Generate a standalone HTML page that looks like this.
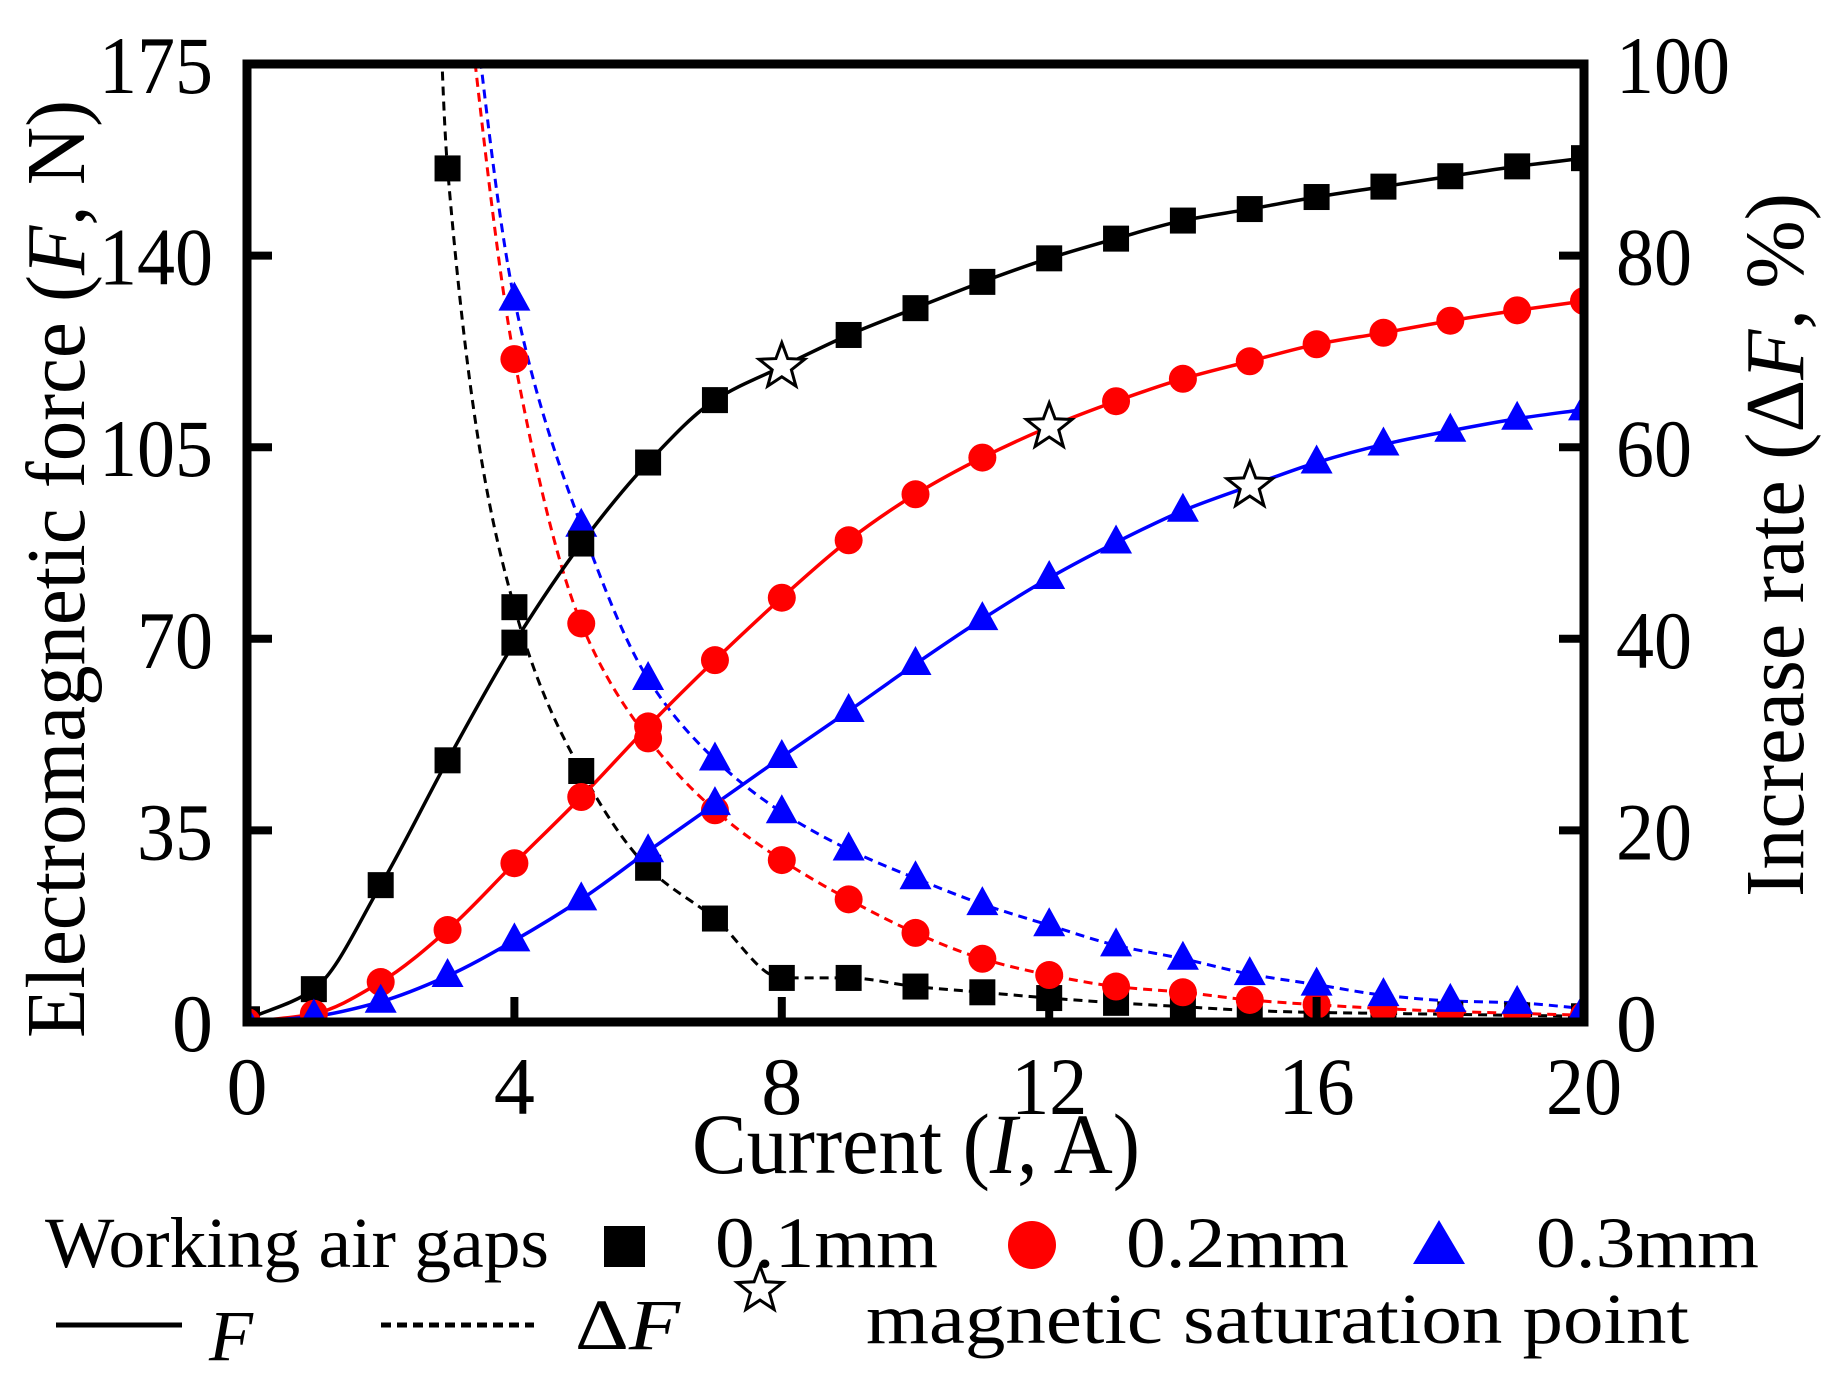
<!DOCTYPE html>
<html><head><meta charset="utf-8"><style>
html,body{margin:0;padding:0;background:#fff;}
svg{display:block;}
text{font-family:"Liberation Serif",serif;fill:#000;}
</style></head><body>
<svg id="chart" width="1839" height="1388" viewBox="0 0 1839 1388" xmlns="http://www.w3.org/2000/svg">
<defs><clipPath id="plotclip"><rect x="247" y="64" width="1337" height="958"/></clipPath></defs>
<g id="dataLayer" clip-path="url(#plotclip)"></g>
<rect x="247" y="64" width="1337" height="958" fill="none" stroke="#000" stroke-width="9"/>
<g id="axes"></g>
<text x="692" y="1173" font-size="86" textLength="448" lengthAdjust="spacingAndGlyphs">Current (<tspan font-style="italic">I</tspan>, A)</text>
<text transform="translate(84,1038) rotate(-90)" font-size="84" textLength="938" lengthAdjust="spacingAndGlyphs">Electromagnetic force (<tspan font-style="italic">F</tspan>, N)</text>
<text transform="translate(1803,897) rotate(-90)" font-size="84" textLength="704" lengthAdjust="spacingAndGlyphs">Increase rate (Δ<tspan font-style="italic">F</tspan>, %)</text>
<g>
<text x="45" y="1267" font-size="72" textLength="504" lengthAdjust="spacingAndGlyphs">Working air gaps</text>
<rect x="604" y="1226" width="41" height="41" fill="#000"/>
<text x="715" y="1267" font-size="72" textLength="223" lengthAdjust="spacingAndGlyphs">0.1mm</text>
<circle cx="1032" cy="1245" r="24" fill="#f00"/>
<text x="1126" y="1267" font-size="72" textLength="223" lengthAdjust="spacingAndGlyphs">0.2mm</text>
<polygon points="1439,1220 1465,1264 1413,1264" fill="#00f"/>
<text x="1536" y="1267" font-size="72" textLength="223" lengthAdjust="spacingAndGlyphs">0.3mm</text>
<line x1="56" y1="1325" x2="182" y2="1325" stroke="#000" stroke-width="5"/>
<text x="209" y="1360" font-size="72" font-style="italic">F</text>
<line x1="381" y1="1325" x2="534" y2="1325" stroke="#000" stroke-width="5" stroke-dasharray="10,6"/>
<text x="575" y="1349" font-size="72" textLength="105" lengthAdjust="spacingAndGlyphs">Δ<tspan font-style="italic">F</tspan></text>
<polygon id="legendStar" fill="#fff" stroke="#000" stroke-width="3"/>
<text x="866" y="1343" font-size="72" textLength="823" lengthAdjust="spacingAndGlyphs">magnetic saturation point</text>
</g>
</svg>
<script>
const currents = [0,1,2,3,4,5,6,7,8,9,10,11,12,13,14,15,16,17,18,19,20];
const force01 = [0.5,6,25,47.8,69.3,87.4,102.2,113.6,119.7,125.5,130.4,135.2,139.5,143.1,146.4,148.5,150.7,152.6,154.5,156.3,157.8];
const force02 = [0,1.5,7.3,16.8,29,41.1,54,66.1,77.5,88,96.4,103.1,108.7,113.4,117.5,120.7,123.8,125.9,128.1,130,131.7];
const force03 = [0,1,3.7,8.4,14.9,22.4,31.2,39.8,48.4,56.8,65.4,73.6,81.1,87.6,93.4,97.9,102.2,105.5,108,110.2,111.9];
const rateCurrents01 = [2,3,4,5,6,7,8,9,10,11,12,13,14,15,16,17,18,19,20];
const rate01 = [500,89.1,43.3,26.2,16.1,10.8,4.6,4.6,3.7,3.1,2.5,2.0,1.6,1.2,1.0,0.9,0.8,0.7,0.6];
const rateCurrents = [3,4,5,6,7,8,9,10,11,12,13,14,15,16,17,18,19,20];
const rate02 = [125,69.2,41.6,29.6,22.1,16.9,12.8,9.3,6.6,4.9,3.7,3.1,2.3,1.8,1.4,1.1,0.9,0.7];
const rate03 = [130,75.4,51.8,35.8,27.4,21.9,18.0,15.0,12.3,10.1,8.0,6.6,5.0,3.9,2.8,2.2,2.0,1.4];
const saturationCurrents = [8,12,15];
const saturationSeries = [0,1,2];
const xTicks = [0,4,8,12,16,20];
const leftTicks = [0,35,70,105,140,175];
const rightTicks = [0,20,40,60,80,100];

const NS='http://www.w3.org/2000/svg';
const L=247,R=1584,T=64,B=1022;
const X=v=>L+v*(R-L)/20;
const YL=v=>B-v*(B-T)/175;
const YR=v=>B-v*(B-T)/100;
const layer=document.getElementById('dataLayer');
const axes=document.getElementById('axes');
function mk(tag,attrs,parent){const e=document.createElementNS(NS,tag);for(const k in attrs)e.setAttribute(k,attrs[k]);parent.appendChild(e);return e;}
function smooth(pts){const n=pts.length;const dx=[],s=[];for(let i=0;i<n-1;i++){dx.push(pts[i+1][0]-pts[i][0]);s.push((pts[i+1][1]-pts[i][1])/dx[i]);}
 const m=new Array(n);m[0]=s[0];m[n-1]=s[n-2];
 for(let i=1;i<n-1;i++){if(s[i-1]*s[i]<=0)m[i]=0;else{const w1=2*dx[i]+dx[i-1],w2=dx[i]+2*dx[i-1];m[i]=(w1+w2)/(w1/s[i-1]+w2/s[i]);}}
 let d='M'+pts[0][0]+','+pts[0][1];
 for(let i=0;i<n-1;i++){const h=dx[i]/3;d+=` C${pts[i][0]+h},${pts[i][1]+m[i]*h} ${pts[i+1][0]-h},${pts[i+1][1]-m[i+1]*h} ${pts[i+1][0]},${pts[i+1][1]}`;}
 return d;}
function starPts(cx,cy,r){const a=[];for(let i=0;i<10;i++){const rr=i%2?r*0.42:r;const ang=-Math.PI/2+i*Math.PI/5;a.push((cx+rr*Math.cos(ang)).toFixed(1)+','+(cy+rr*Math.sin(ang)).toFixed(1));}return a.join(' ');}
function marker(kind,cx,cy,color,name){let e;
 if(kind==='sq'){e=mk('rect',{x:cx-13,y:cy-13,width:26,height:26,fill:color},layer);}
 else if(kind==='ci'){e=mk('circle',{cx:cx,cy:cy,r:14,fill:color},layer);}
 else {e=mk('polygon',{points:`${cx},${cy-18} ${cx+16},${cy+11} ${cx-16},${cy+11}`,fill:color},layer);}
 
 }

xTicks.forEach(v=>{const l=mk('line',{x1:X(v),y1:B,x2:X(v),y2:B-25,stroke:'#000','stroke-width':8},axes);
 
 
 const t=mk('text',{x:X(v),y:1114,'font-size':82,'text-anchor':'middle'},axes);t.textContent=v;
 if(String(v).length>1){t.setAttribute('textLength',String(v).length*38);t.setAttribute('lengthAdjust','spacingAndGlyphs');}
 
 });
leftTicks.forEach(v=>{const l=mk('line',{x1:L,y1:YL(v),x2:L+25,y2:YL(v),stroke:'#000','stroke-width':8},axes);
 
 
 const t=mk('text',{x:213,y:YL(v)+29,'font-size':82,'text-anchor':'end'},axes);t.textContent=v;
 if(String(v).length>1){t.setAttribute('textLength',String(v).length*38);t.setAttribute('lengthAdjust','spacingAndGlyphs');}
 
 });
rightTicks.forEach(v=>{const l=mk('line',{x1:R,y1:YR(v),x2:R-25,y2:YR(v),stroke:'#000','stroke-width':8},axes);
 
 
 const t=mk('text',{x:1616,y:YR(v)+29,'font-size':82},axes);t.textContent=v;
 if(String(v).length>1){t.setAttribute('textLength',String(v).length*38);t.setAttribute('lengthAdjust','spacingAndGlyphs');}
 
 });

const rateSets=[[rateCurrents01,rate01,'#000','sq','rate-0.1mm'],[rateCurrents,rate02,'#f00','ci','rate-0.2mm'],[rateCurrents,rate03,'#00f','tr','rate-0.3mm']];
const forceSets=[[force01,'#000','sq','force-0.1mm'],[force02,'#f00','ci','force-0.2mm'],[force03,'#00f','tr','force-0.3mm']];
rateSets.forEach(s=>{const p=mk('path',{d:smooth(s[0].map((c,i)=>[X(c),YR(s[1][i])])),fill:'none',stroke:s[2],'stroke-width':3,'stroke-dasharray':'9,6'},layer);
 
 });
forceSets.forEach(s=>{const p=mk('path',{d:smooth(currents.map((c,i)=>[X(c),YL(s[0][i])])),fill:'none',stroke:s[1],'stroke-width':3.5},layer);
 
 });
rateSets.forEach(s=>{s[0].forEach((c,i)=>{if(s[1][i]<=100)marker(s[3],X(c),YR(s[1][i]),s[2],s[4]+'-marker');});});
forceSets.forEach((s,k)=>{currents.forEach((c,i)=>{if(saturationCurrents[k]===c)return;marker(s[2],X(c),YL(s[0][i]),s[1],s[3]+'-marker');});});
saturationSeries.forEach((k,j)=>{const c=saturationCurrents[j];const v=forceSets[k][0][currents.indexOf(c)];
 const st=mk('polygon',{points:starPts(X(c),YL(v),24),fill:'#fff',stroke:'#000','stroke-width':3},layer);
 
 });
document.getElementById('legendStar').setAttribute('points',starPts(760,1290,24));
</script>
</body></html>
